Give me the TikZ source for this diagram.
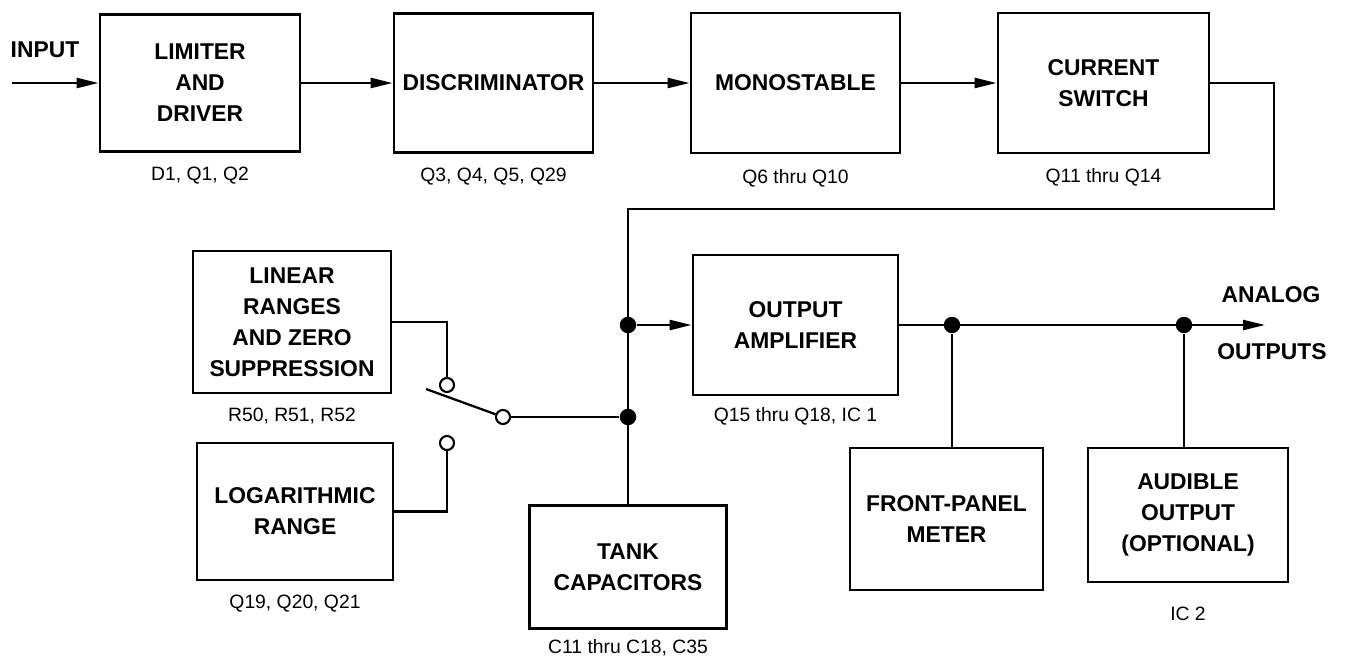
\documentclass[tikz,border=0pt]{standalone}
\usepackage{fontspec}
\setmainfont{Liberation Sans}
\usetikzlibrary{positioning,arrows.meta}

\begin{document}
\begin{tikzpicture}[x=0.02cm, y=-0.02cm,
    block/.style={draw, rectangle, line width=1.6pt, inner sep=2pt, align=center, font=\fontsize{13}{17.6}\selectfont\bfseries},
    parts/.style={font=\fontsize{11}{13}\selectfont},
    tag/.style={font=\fontsize{13}{15}\selectfont\bfseries},
    dot/.style={circle, fill, inner sep=0pt, minimum size=0.33cm},
    contact/.style={circle, draw, fill=white, line width=1.2pt, inner sep=0pt, minimum size=0.28cm},
    wire/.style={line width=1.3pt},
    flow/.style={wire, -{Triangle[length=0.44cm, width=0.2cm]}}]
        \useasboundingbox (0,0) rectangle (1357,662);

        % Nodes
        \node[block, minimum width=4cm, minimum height=2.74cm] (limiter) at (200,83) {LIMITER\\AND\\DRIVER};
        \node[block, minimum width=3.98cm, minimum height=2.78cm] (discr) at (493.5,83) {DISCRIMINATOR};
        \node[block, minimum width=4.18cm, minimum height=2.8cm] (mono) at (795.5,83) {MONOSTABLE};
        \node[block, minimum width=4.22cm, minimum height=2.8cm] (cswitch) at (1103.5,83) {CURRENT\\SWITCH};
        \node[block, minimum width=3.96cm, minimum height=2.84cm] (linear) at (292,322) {LINEAR\\RANGES\\AND ZERO\\SUPPRESSION};
        \node[block, minimum width=3.92cm, minimum height=2.74cm] (logr) at (295,511.5) {LOGARITHMIC\\RANGE};
        \node[block, minimum width=4.1cm, minimum height=2.8cm] (amp) at (795.5,325) {OUTPUT\\AMPLIFIER};
        \node[block, minimum width=3.94cm, minimum height=2.46cm] (tank) at (628,567) {TANK\\CAPACITORS};
        \node[block, minimum width=3.86cm, minimum height=2.84cm] (meter) at (946.5,519) {FRONT-PANEL\\METER};
        \node[block, minimum width=4cm, minimum height=2.68cm] (audible) at (1188,515) {AUDIBLE\\OUTPUT\\(OPTIONAL)};

        % Part numbers
        \node[parts, below=0.15cm of limiter] (limparts) {D1, Q1, Q2};
        \node[parts, below=0.15cm of discr] (discrparts) {Q3, Q4, Q5, Q29};
        \node[parts, below=0.18cm of mono] (monoparts) {Q6 thru Q10};
        \node[parts, below=0.15cm of cswitch] (csparts) {Q11 thru Q14};
        \node[parts, below=0.15cm of linear] (linparts) {R50, R51, R52};
        \node[parts, below=0.15cm of logr] (logparts) {Q19, Q20, Q21};
        \node[parts, below=0.1cm of amp] (ampparts) {Q15 thru Q18, IC 1};
        \node[parts, below=0.06cm of tank] (tankparts) {C11 thru C18, C35};
        \node[parts, below=0.35cm of audible] (audparts) {IC 2};

        % Signal names
        \node[tag] (inlabel) at (45,50) {INPUT};
        \node[tag] (outlabel1) at (1271,295) {ANALOG};
        \node[tag] (outlabel2) at (1272,352) {OUTPUTS};

        % Junctions and switch
        \node[dot] (j1) at (628,325) {};
        \node[dot] (j2) at (628,417) {};
        \node[dot] (j3) at (952,325) {};
        \node[dot] (j4) at (1184,325) {};
        \node[contact] (c1) at (447,385) {};
        \node[contact] (c2) at (447,443) {};
        \node[contact] (pivot) at (503,417) {};
        \coordinate (infeed) at (12,83);
        \coordinate (outend) at (1265,325);
        \coordinate (fbcorner) at (1274,209);
        \coordinate (bladetip) at (426,389);

        % Arrows
        \draw[flow] (infeed) -- (limiter);
        \draw[flow] (limiter) -- (discr);
        \draw[flow] (discr) -- (mono);
        \draw[flow] (mono) -- (cswitch);
        \draw[wire] (cswitch.east) -| (fbcorner) -| (tank.north);
        \draw[flow] (j1) -- (amp);
        \draw[flow] (amp) -- (outend);
        \draw[wire] (j3) -- (meter.north -| j3);
        \draw[wire] (j4) -- (audible.north -| j4);
        \draw[wire] (linear.east) -| (c1);
        \draw[wire] (logr.east) -| (c2);
        \draw[wire] (pivot) -- (bladetip);
        \draw[wire] (pivot) -- (j2);
    \end{tikzpicture}
\end{document}
